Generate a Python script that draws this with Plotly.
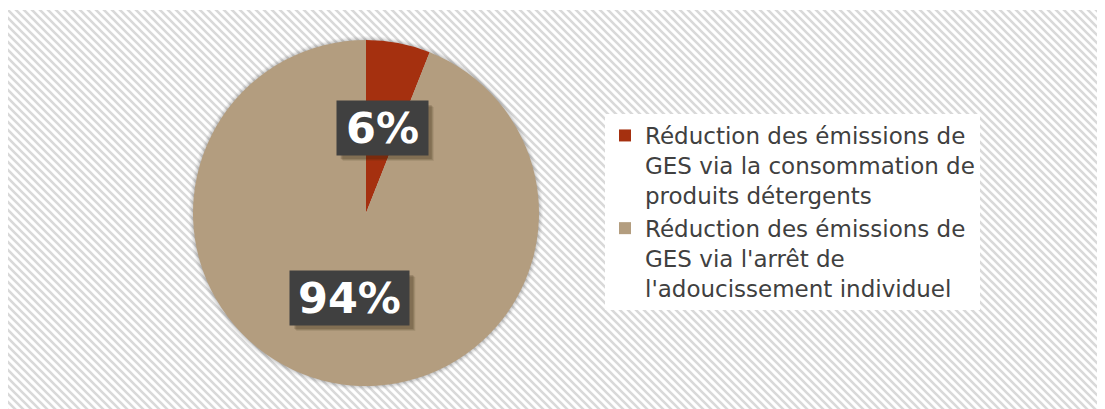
import base64
import math
import plotly.graph_objects as go

# ---- data ----
labels = [
    "Réduction des émissions de<br>GES via la consommation de<br>produits détergents",
    "Réduction des émissions de<br>GES via l'arrêt de<br>l'adoucissement individuel",
]
values = [6, 94]
value_labels = ["6%", "94%"]
colors = ["#A5300F", "#B39D7F"]

W, H = 1105, 409
FONT = "Verdana, 'DejaVu Sans', sans-serif"
OFF = 8  # page body margin

# pie geometry (pixels, figure coords)
cx, cy, R = 366 - OFF, 213 - OFF, 173
dom_x = [(cx - R) / W, (cx + R) / W]
dom_y = [1 - (cy + R) / H, 1 - (cy - R) / H]

fig = go.Figure()
fig.add_trace(go.Pie(
    labels=labels, values=values, sort=False, direction="clockwise", rotation=0,
    marker=dict(colors=colors, line=dict(width=0)),
    textinfo="none", hoverinfo="label+percent",
    domain=dict(x=dom_x, y=dom_y),
))

# background hatching as an SVG image
hx0, hy0 = 0, 2
hw, hh = W - hx0, H - hy0
p = 8
svg = f'''<svg xmlns="http://www.w3.org/2000/svg" width="{hw}" height="{hh}" viewBox="0 0 {hw} {hh}">
<defs><pattern id="h" width="{p}" height="{p}" patternUnits="userSpaceOnUse">
<rect width="{p}" height="{p}" fill="#ffffff"/>
<path d="M0,0 L{p},{p} M{-p/2},{p/2} L{p/2},{3*p/2} M{p/2},{-p/2} L{3*p/2},{p/2}" stroke="#d9d9d9" stroke-width="2.6"/>
</pattern></defs>
<rect width="{hw}" height="{hh}" fill="url(#h)"/>
</svg>'''
src = "data:image/svg+xml;base64," + base64.b64encode(svg.encode()).decode()
fig.add_layout_image(dict(source=src, xref="paper", yref="paper",
                          x=hx0 / W, y=1 - hy0 / H, sizex=hw / W, sizey=hh / H,
                          xanchor="left", yanchor="top", sizing="stretch", layer="below"))

# soft shadow around the pie
for k, a in [(4, 0.03), (3, 0.04), (2, 0.05), (1, 0.06)]:
    fig.add_shape(type="circle", xref="paper", yref="paper",
                  x0=(cx - R - k) / W, x1=(cx + R + k) / W,
                  y0=1 - (cy + R + k) / H, y1=1 - (cy - R - k) / H,
                  line=dict(width=0), fillcolor=f"rgba(0,0,0,{a})", layer="below")

# data labels placed at half radius along each slice's mid angle
total = sum(values)
cum = 0
BH = 54
for v, t in zip(values, value_labels):
    mid = (cum + v / 2) / total * 2 * math.pi
    cum += v
    px = cx + 0.5 * R * math.sin(mid)
    py = cy - 0.5 * R * math.cos(mid)
    bw = 35 + 28 * len(t)
    ax, ay = px / W, 1 - py / H
    # drop shadow (pixel-sized rectangle anchored at the label point)
    for s, a in [(6, 0.10), (5, 0.14), (4, 0.18)]:
        fig.add_shape(type="rect", xref="paper", yref="paper",
                      xsizemode="pixel", ysizemode="pixel", xanchor=ax, yanchor=ay,
                      x0=-bw / 2 + s, x1=bw / 2 + s, y0=-BH / 2 - s, y1=BH / 2 - s,
                      line=dict(width=0), fillcolor=f"rgba(50,35,10,{a})")
    fig.add_annotation(x=ax, y=ay, xref="paper", yref="paper", text=f"<b>{t}</b>", showarrow=False,
                       xanchor="center", yanchor="middle",
                       width=bw, height=BH, borderpad=0,
                       bgcolor="#404040", font=dict(color="#ffffff", size=43, family=FONT))

fig.update_layout(
    width=W, height=H,
    margin=dict(l=0, r=0, t=0, b=0),
    paper_bgcolor="#ffffff", plot_bgcolor="#ffffff",
    showlegend=True,
    legend=dict(x=(645 - 40 - OFF) / W, y=1 - (212 - OFF) / H, xanchor="left", yanchor="middle",
                bgcolor="#ffffff", valign="top", itemwidth=30, tracegroupgap=0,
                font=dict(size=23, color="#404040", family=FONT)),
)

fig.write_html("out.html")
